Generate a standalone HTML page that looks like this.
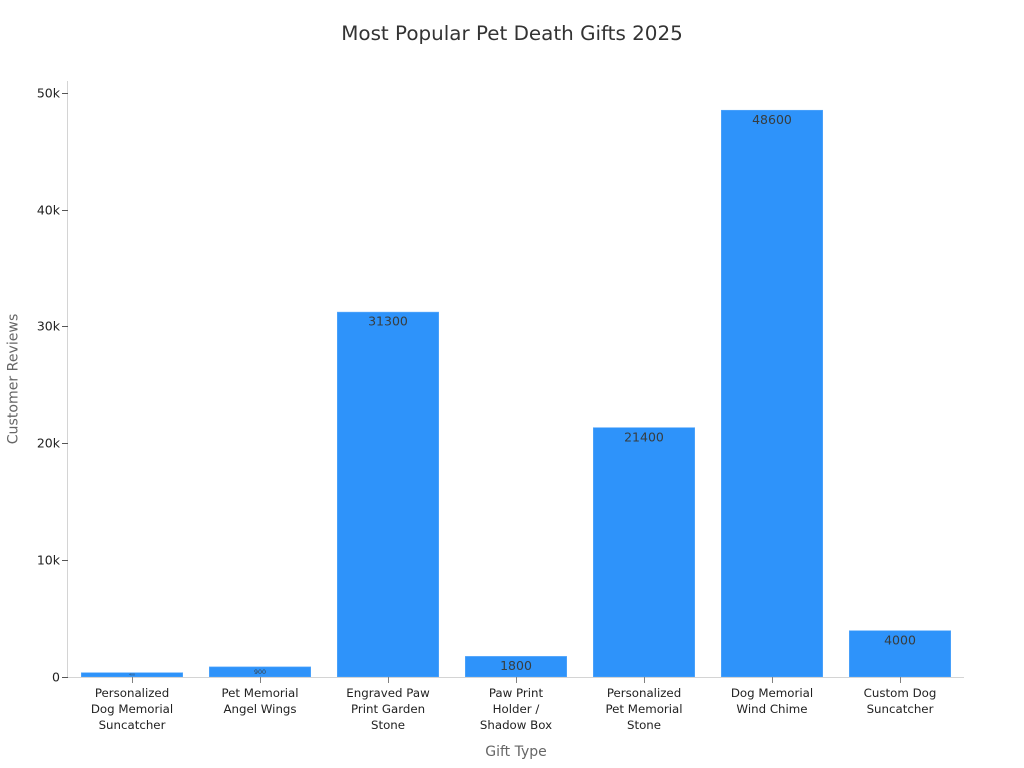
<!DOCTYPE html>
<html lang="en">
<head>
<meta charset="utf-8">
<title>Most Popular Pet Death Gifts 2025</title>
<style>
html,body{margin:0;padding:0;background:#fff;}
#chart{display:block;width:1024px;height:768px;font-family:"DejaVu Sans","Liberation Sans",sans-serif;}
</style>
</head>
<body>
<svg id="chart" xmlns="http://www.w3.org/2000/svg" width="1024" height="768" viewBox="0 0 1024 768">
  <text x="512" y="40" text-anchor="middle" font-size="19.9" fill="#333333">Most Popular Pet Death Gifts 2025</text>
  <g id="bars"></g>
  <line x1="67.5" y1="81" x2="67.5" y2="677.5" stroke="#d4d4d4" stroke-width="1"/>
  <line x1="68" y1="677.5" x2="964" y2="677.5" stroke="#d4d4d4" stroke-width="1"/>
  <g id="y-ticks"></g>
  <g id="x-ticks"></g>
  <text x="516" y="756" text-anchor="middle" font-size="14" fill="#666666">Gift Type</text>
  <text transform="translate(17.5,379) rotate(-90)" text-anchor="middle" font-size="14.1" fill="#666666">Customer Reviews</text>
</svg>
<script>
const categories = [
  ["Personalized", "Dog Memorial", "Suncatcher"],
  ["Pet Memorial", "Angel Wings"],
  ["Engraved Paw", "Print Garden", "Stone"],
  ["Paw Print", "Holder /", "Shadow Box"],
  ["Personalized", "Pet Memorial", "Stone"],
  ["Dog Memorial", "Wind Chime"],
  ["Custom Dog", "Suncatcher"]
];
const reviews = [400, 900, 31300, 1800, 21400, 48600, 4000];
const yTickValues = [0, 10000, 20000, 30000, 40000, 50000];
const yTickLabels = ["0", "10k", "20k", "30k", "40k", "50k"];

const NS = "http://www.w3.org/2000/svg";
const plotLeft = 68, plotRight = 964, plotBottom = 677, plotTop50k = 93.5;
function yScale(v) { return plotBottom - (v / 50000) * (plotBottom - plotTop50k); }
function xCenter(i) { return plotLeft + (plotRight - plotLeft) / categories.length * (i + 0.5); }
const bandWidth = (plotRight - plotLeft) / categories.length;
const barWidth = bandWidth * 0.8 - 1;

function make(tag, attrs, text) {
  const el = document.createElementNS(NS, tag);
  for (const k in attrs) el.setAttribute(k, attrs[k]);
  if (text !== undefined) el.textContent = text;
  return el;
}

const barsG = document.getElementById("bars");
reviews.forEach(function (v, i) {
  const cx = xCenter(i);
  const top = yScale(v);
  const rect = make("rect", { x: cx - barWidth / 2, y: top + 0.4, width: barWidth, height: plotBottom - top - 0.4, fill: "#2e93fa", stroke: "#5aa9fb", "stroke-width": 0.6 });
  
  
  barsG.appendChild(rect);

  const h = plotBottom - top;
  const fs = h >= 16 ? 12.5 : Math.max(3, h * 0.6);
  const ty = h >= 16 ? top + 14 : top + h / 2 + fs * 0.36;
  const label = make("text", { x: cx, y: ty, "text-anchor": "middle", "font-size": fs, fill: "#373d3f" }, String(v));
  
  
  barsG.appendChild(label);
});

const yG = document.getElementById("y-ticks");
yTickValues.forEach(function (v, i) {
  const y = Math.floor(yScale(v)) + 0.5;
  const tick = make("line", { x1: 62, y1: y, x2: 68, y2: y, stroke: "#555555", "stroke-width": 1 });
  
  
  yG.appendChild(tick);
  const label = make("text", { x: 60, y: y + 4, "text-anchor": "end", "font-size": 12.5, fill: "#222222" }, yTickLabels[i]);
  
  
  yG.appendChild(label);
});

const xG = document.getElementById("x-ticks");
categories.forEach(function (lines, i) {
  const cx = Math.round(xCenter(i)) + 0.5;
  const tick = make("line", { x1: cx, y1: 677, x2: cx, y2: 683, stroke: "#808080", "stroke-width": 1 });
  
  
  xG.appendChild(tick);
  const label = make("text", { "text-anchor": "middle", "font-size": 11.8, fill: "#222222" });
  
  
  lines.forEach(function (line, j) {
    label.appendChild(make("tspan", { x: xCenter(i), y: 697 + j * 16 }, line));
  });
  xG.appendChild(label);
});
</script>
</body>
</html>
